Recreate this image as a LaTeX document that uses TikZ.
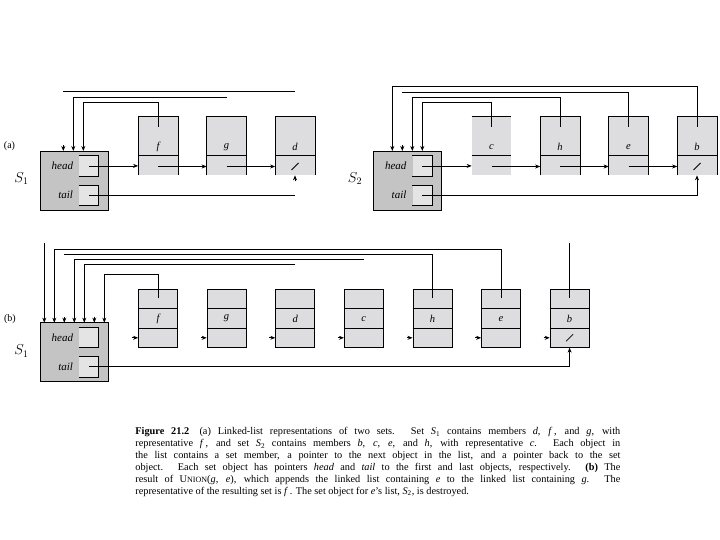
\documentclass[tikz,border=0pt]{standalone}
\usepackage{fontspec}
\setmainfont{Liberation Serif}
\usetikzlibrary{arrows.meta}
\definecolor{setgray}{RGB}{196,196,196}
\definecolor{boxgray}{RGB}{221,221,223}
\definecolor{cellgray}{RGB}{228,228,228}
\newcommand\SetObj[3]{% name, center x, center y
  \node[setobj] (#1) at (#2,#3) {};
  \node[cellbox] (#1h) at ([shift={(14.65,-14.6)}]#1.center) {};
  \node[cellbox] (#1t) at ([shift={(14.65,14.6)}]#1.center) {};
  \draw (#1h.north west) -- (#1h.north east) -- (#1h.south east) -- (#1h.south west);
  \draw (#1t.north west) -- (#1t.north east) -- (#1t.south east) -- (#1t.south west);
  \node[fieldname] (#1hn) at ([xshift=-5.5pt]#1h.west) {head};
  \node[fieldname] (#1tn) at ([xshift=-5.5pt]#1t.west) {tail};
}
\newcommand\ElemA[3]{% name, x, label  (part a: open bottom)
  \node[elem, minimum height=58.3pt] (#1) at (#2,145.85) {};
  \node[lbl] (#1l) at (#2,146.7) {#3};
  \coordinate (#1-n) at (#2,166.5);
  \coordinate (#1-p) at (#2,127);
  \draw ([yshift=-39.3pt]#1.north west) -- ([yshift=-39.3pt]#1.north east);
}
\newcommand\ElemB[3]{% name, x, label  (part b: full box)
  \node[elem, draw, minimum height=58pt] (#1) at (#2,318.3) {};
  \node[lbl] (#1l) at (#2,318.6) {#3};
  \coordinate (#1-p) at (#2,298.3);
  \coordinate (#1-w) at ([yshift=-19.5pt]#1.west);
  \coordinate (#1-n) at (#2,337.8);
  \draw ([yshift=-19pt]#1.north west) -- ([yshift=-19pt]#1.north east);
  \draw ([yshift=-39pt]#1.north west) -- ([yshift=-39pt]#1.north east);
  \draw[arr] ([xshift=-6pt]#1-w) -- (#1-w);
}
\newcommand\Slash[1]{\draw (#1) +(-3.5,3.5) -- +(3.5,-3.5);}
\begin{document}
\begin{tikzpicture}[x=1pt,y=-1pt,line width=0.75pt,
  arr/.style={-{Stealth[length=5pt,width=4pt]}},
  setobj/.style={draw,fill=setgray,minimum width=68.3pt,minimum height=59pt,inner sep=0pt},
  cellbox/.style={fill=cellgray,minimum width=19pt,minimum height=19.6pt,inner sep=0pt},
  elem/.style={fill=boxgray,minimum width=39pt,inner sep=0pt},
  lbl/.style={font=\fontsize{10.5}{12}\selectfont\itshape,inner sep=0pt},
  fieldname/.style={font=\fontsize{11}{13}\selectfont\itshape,anchor=east,inner sep=0pt},
  setname/.style={font=\fontsize{14}{16}\selectfont,inner sep=0pt},
  tag/.style={font=\fontsize{10}{12}\selectfont,inner sep=0pt}]
\useasboundingbox (0,0) rectangle (720,540);
\fill[white] (0,0) rectangle (720,540);

% ---------------- (a) left: S1 ----------------
\node[tag] (taga) at (9.5,146.5) {(a)};
\node[setname] (S1alab) at (21.5,179) {$S_1$};
\SetObj{S1a}{74.15}{180.5}
\ElemA{fa}{158}{f}
\ElemA{ga}{226.5}{g}
\ElemA{da}{295}{d}
\foreach \n in {fa,ga,da}
  \draw (\n.south west) -- (\n.north west) -- (\n.north east) -- (\n.south east);
\coordinate (A1) at (63.3,151);
\coordinate (A2) at (73.3,151);
\coordinate (A3) at (83.3,151);
\draw (A1 |- 0,91.7) -- (da.north |- 0,91.7);
\draw[arr] ([yshift=6pt]A1) -- (A1);
\draw[arr] (ga.north |- 0,97.3) -- (A2 |- 0,97.3) -- (A2);
\draw[arr] (fa-p) -- (fa-p |- 0,102.3) -- (A3 |- 0,102.3) -- (A3);
\draw[arr] (S1ah.center) -- (S1ah.center -| fa.west);
\draw[arr] (fa-n) -- (fa-n -| ga.west);
\draw[arr] (ga-n) -- (ga-n -| da.west);
\Slash{da-n}
\draw (S1at.center) -- (S1at.center -| da.south);
\draw[arr] ([yshift=-6pt]da.south) -- (da.south);

% ---------------- (a) right: S2 ----------------
\node[setname] (S2alab) at (355,179) {$S_2$};
\SetObj{S2a}{407.5}{180.5}
\ElemA{ca}{491.5}{c}
\ElemA{ha}{560}{h}
\ElemA{ea}{628.5}{e}
\ElemA{ba}{697}{b}
\draw (ca.north west) -- (ca.north east);
\foreach \n in {ha,ea,ba}
  \draw (\n.south west) -- (\n.north west) -- (\n.north east) -- (\n.south east);
\coordinate (B1) at (392.3,151);
\coordinate (B2) at (402.3,151);
\coordinate (B3) at (412.3,151);
\coordinate (B4) at (422.3,151);
\draw[arr] (ba-p) -- (ba-p |- 0,86.7) -- (B1 |- 0,86.7) -- (B1);
\draw (ea-p) -- (ea-p |- 0,92.3) -- (B2 |- 0,92.3);
\draw[arr] ([yshift=6pt]B2) -- (B2);
\draw[arr] (ha-p) -- (ha-p |- 0,97.3) -- (B3 |- 0,97.3) -- (B3);
\draw[arr] (ca-p) -- (ca-p |- 0,102.7) -- (B4 |- 0,102.7) -- (B4);
\draw[arr] (S2ah.center) -- (S2ah.center -| ca.west);
\draw[arr] (ca-n) -- (ca-n -| ha.west);
\draw[arr] (ha-n) -- (ha-n -| ea.west);
\draw[arr] (ea-n) -- (ea-n -| ba.west);
\Slash{ba-n}
\draw[arr] (S2at.center) -- (S2at.center -| ba.south) -- (ba.south);

% ---------------- (b) ----------------
\node[tag] (tagb) at (10,319.5) {(b)};
\node[setname] (S1blab) at (21.5,351) {$S_1$};
\SetObj{S1b}{74.15}{352.2}
\ElemB{fb}{158}{f}
\ElemB{gb}{226.6}{g}
\ElemB{db}{295.2}{d}
\ElemB{cb}{363.8}{c}
\ElemB{hb}{432.4}{h}
\ElemB{eb}{501}{e}
\ElemB{bb}{569.6}{b}
\foreach \i in {1,...,7}
  \coordinate (C\i) at ({34.3+10*\i},322.7);
\draw[arr] (C1 |- 0,243.3) -- (C1);
\draw[arr] (eb-p) -- (eb-p |- 0,249) -- (C2 |- 0,249) -- (C2);
\draw (hb-p) -- (hb-p |- 0,254) -- (C3 |- 0,254);
\draw[arr] ([yshift=6pt]C3) -- (C3);
\draw[arr] (cb.north |- 0,259) -- (C4 |- 0,259) -- (C4);
\draw[arr] (db.north |- 0,264) -- (C5 |- 0,264) -- (C5);
\draw[arr] ([yshift=6pt]C6) -- (C6);
\draw[arr] (fb-p) -- (fb-p |- 0,274.3) -- (C7 |- 0,274.3) -- (C7);
\draw (bb-p |- 0,243.3) -- (bb-p);
\Slash{bb-n}
\draw[arr] (S1bt.center) -- (S1bt.center -| bb.south) -- (bb.south);

% ---------------- caption ----------------
\node[anchor=north west,inner sep=0pt] (cap) at (135,427) {\parbox{485pt}{\fontsize{10.3}{11.9}\selectfont
\textbf{Figure 21.2}\hspace{1em}(a) Linked-list representations of two sets. Set \textit{S}\textsubscript{1} contains members \textit{d}, \textit{f}\,, and \textit{g}, with\linebreak
representative \textit{f}\,, and set \textit{S}\textsubscript{2} contains members \textit{b}, \textit{c}, \textit{e}, and \textit{h}, with representative \textit{c}. Each object in\linebreak
the list contains a set member, a pointer to the next object in the list, and a pointer back to the set\linebreak
object. Each set object has pointers \textit{head} and \textit{tail} to the first and last objects, respectively. \textbf{(b)} The\linebreak
result of U{\fontsize{8}{9}\selectfont NION}(\textit{g}, \textit{e}), which appends the linked list containing \textit{e} to the linked list containing \textit{g}. The\linebreak
representative of the resulting set is \textit{f}\,. The set object for \textit{e}'s list, \textit{S}\textsubscript{2}, is destroyed.}};
\end{tikzpicture}
\end{document}
